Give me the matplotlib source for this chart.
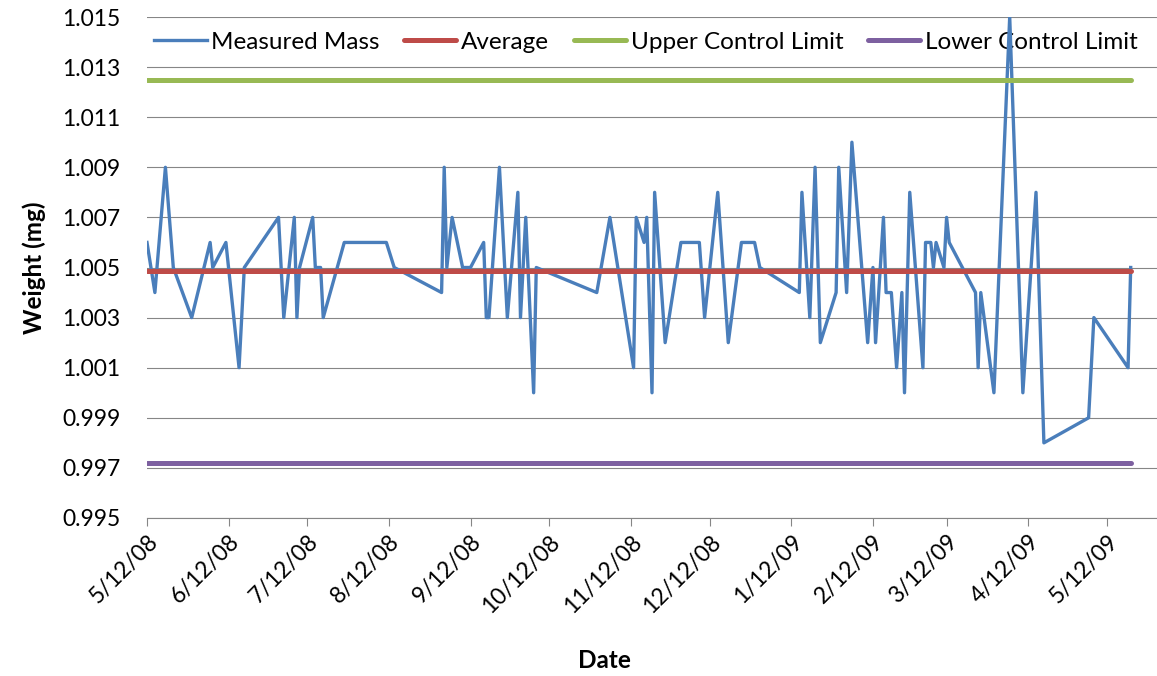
import matplotlib
matplotlib.use("Agg")
import matplotlib.pyplot as plt
import matplotlib.dates as mdates
import pandas as pd

plt.rcParams["font.family"] = ["Lato", "DejaVu Sans"]

# ── data ─────────────────────────────────────────────────────────────────────
DATES = [
    "2008-05-12", "2008-05-15", "2008-05-19", "2008-05-22", "2008-05-29",
    "2008-06-05", "2008-06-06", "2008-06-11", "2008-06-16", "2008-06-18",
    "2008-07-01", "2008-07-03", "2008-07-07", "2008-07-08", "2008-07-09",
    "2008-07-14", "2008-07-15", "2008-07-17", "2008-07-18", "2008-07-26",
    "2008-08-11", "2008-08-14", "2008-09-01", "2008-09-02", "2008-09-03",
    "2008-09-05", "2008-09-09", "2008-09-12", "2008-09-17", "2008-09-18",
    "2008-09-19", "2008-09-23", "2008-09-25", "2008-09-26", "2008-09-30",
    "2008-10-01", "2008-10-03", "2008-10-06", "2008-10-07", "2008-10-30",
    "2008-11-04", "2008-11-13", "2008-11-14", "2008-11-17", "2008-11-18",
    "2008-11-20", "2008-11-21", "2008-11-25", "2008-12-01", "2008-12-08",
    "2008-12-10", "2008-12-15", "2008-12-19", "2008-12-24", "2008-12-29",
    "2008-12-31", "2009-01-15", "2009-01-16", "2009-01-19", "2009-01-21",
    "2009-01-23", "2009-01-29", "2009-01-30", "2009-02-02", "2009-02-04",
    "2009-02-10", "2009-02-12", "2009-02-13", "2009-02-16", "2009-02-17",
    "2009-02-19", "2009-02-21", "2009-02-23", "2009-02-24", "2009-02-26",
    "2009-03-03", "2009-03-04", "2009-03-06", "2009-03-07", "2009-03-08",
    "2009-03-11", "2009-03-12", "2009-03-13", "2009-03-23", "2009-03-24",
    "2009-03-25", "2009-03-30", "2009-04-05", "2009-04-10", "2009-04-15",
    "2009-04-18", "2009-05-05", "2009-05-07", "2009-05-20", "2009-05-21",
]
MASS = [
    1.006, 1.004, 1.009, 1.005, 1.003,
    1.006, 1.005, 1.006, 1.001, 1.005,
    1.007, 1.003, 1.007, 1.003, 1.005,
    1.007, 1.005, 1.005, 1.003, 1.006,
    1.006, 1.005, 1.004, 1.009, 1.005,
    1.007, 1.005, 1.005, 1.006, 1.003,
    1.003, 1.009, 1.005, 1.003, 1.008,
    1.003, 1.007, 1.000, 1.005, 1.004,
    1.007, 1.001, 1.007, 1.006, 1.007,
    1.000, 1.008, 1.002, 1.006, 1.006,
    1.003, 1.008, 1.002, 1.006, 1.006,
    1.005, 1.004, 1.008, 1.003, 1.009,
    1.002, 1.004, 1.009, 1.004, 1.010,
    1.002, 1.005, 1.002, 1.007, 1.004,
    1.004, 1.001, 1.004, 1.000, 1.008,
    1.001, 1.006, 1.006, 1.005, 1.006,
    1.005, 1.007, 1.006, 1.004, 1.001,
    1.004, 1.000, 1.015, 1.000, 1.008,
    0.998, 0.999, 1.003, 1.001, 1.005,
]
AVERAGE = 1.00485
UCL = 1.01250
LCL = 0.99720

dates = pd.to_datetime(DATES)
ends = [dates[0], dates[-1]]

C_MASS, C_AVG, C_UCL, C_LCL = "#4A7EBB", "#BE4B48", "#98B954", "#7D60A0"
GRID = "#868686"

fig = plt.figure(figsize=(11.57, 6.76), dpi=100, facecolor="white")
ax = fig.add_axes([147 / 1157, 1 - 518 / 676, 1 - 147 / 1157, (518 - 17) / 676])

ax.plot(dates, MASS, color=C_MASS, lw=2.4, label="Measured Mass", zorder=3)
ax.plot(ends, [AVERAGE] * 2, color=C_AVG, lw=3.6, label="Average", zorder=4,
        solid_capstyle="round")
ax.plot(ends, [UCL] * 2, color=C_UCL, lw=3.6, label="Upper Control Limit",
        zorder=5, solid_capstyle="round")
ax.plot(ends, [LCL] * 2, color=C_LCL, lw=3.6, label="Lower Control Limit",
        zorder=6, solid_capstyle="round")

ax.set_ylim(0.995, 1.015)
ax.set_yticks([0.995 + 0.002 * i for i in range(11)])
ax.yaxis.set_major_formatter(plt.FuncFormatter(lambda v, _: f"{v:.3f}"))
ax.grid(axis="y", color=GRID, lw=0.8, zorder=0)
ax.set_axisbelow(True)

ax.set_xlim(pd.Timestamp("2008-05-12"), pd.Timestamp("2009-05-31"))
ax.xaxis.set_major_locator(mdates.MonthLocator(bymonthday=12))
ax.xaxis.set_major_formatter(
    plt.FuncFormatter(lambda v, _: (lambda d: f"{d.month}/{d.day}/{d:%y}")(mdates.num2date(v))))

for s in ("top", "right", "left"):
    ax.spines[s].set_visible(False)
ax.spines["bottom"].set_color(GRID)
ax.spines["bottom"].set_linewidth(0.8)

ax.tick_params(axis="y", length=0, pad=19, labelsize=16.5)
ax.tick_params(axis="x", length=5.5, width=0.8, color=GRID, direction="out",
               pad=4, labelsize=16.5)
for lab in ax.get_xticklabels():
    lab.set_rotation(45)
    lab.set_rotation_mode("anchor")
    lab.set_ha("right")
    lab.set_va("top")

ax.set_ylabel("Weight (mg)", fontsize=17.5, fontweight="bold", labelpad=12)
fig.text(604 / 1157, 1 - 660 / 676, "Date", fontsize=17.5, fontweight="bold",
         ha="center", va="center")

leg = ax.legend(loc="upper center", bbox_to_anchor=(0.494, 1.014), ncol=4,
                frameon=False, fontsize=17.5, handlelength=2.15,
                handletextpad=0.2, columnspacing=1.0)
leg.set_zorder(1)

fig.savefig("out.png", dpi=100, facecolor="white")
